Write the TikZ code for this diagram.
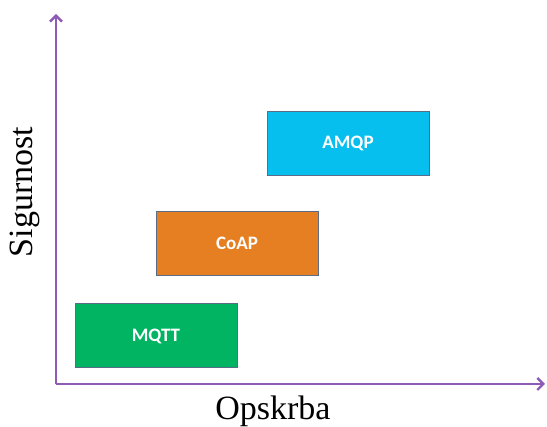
\documentclass[tikz,border=0pt]{standalone}
\usepackage{fontspec}
\setmainfont{Liberation Serif}
\newfontfamily\boxfont{Carlito}
\usetikzlibrary{arrows.meta}
\begin{document}
\begin{tikzpicture}[x=1pt, y=1pt,
  proto/.style = {draw = boxline, line width = 1pt, minimum width = 162pt, minimum height = 64pt,
    text = white, font = \boxfont\bfseries\fontsize{19}{22}\selectfont},
  axis/.style = {draw = axiscol, line width = 2.6pt, -{Straight Barb[length=6pt, width=12pt, line width=2.4pt]}}]
\useasboundingbox (0, 0) rectangle (547, 427);
\definecolor{axiscol}{HTML}{8E5BB5}
\definecolor{boxline}{HTML}{5A6C86}
\definecolor{mqttcol}{HTML}{00B462}
\definecolor{coapcol}{HTML}{E67E22}
\definecolor{amqpcol}{HTML}{06BFEE}
% axes
\coordinate (origin) at (56, 43);
\coordinate (ytop) at (56, 413);
\coordinate (xend) at (545, 43);
\draw[axis] (origin) -- (ytop);
\draw[axis] (origin) -- (xend);
\node[font = \fontsize{34}{40}\selectfont] (xlabel) at (273, 16) {Opskrba};
\node[font = \fontsize{34}{40}\selectfont, rotate = 90] (ylabel) at (25, 235) {Sigurnost};
% protocols
\node[proto, fill = mqttcol] (mqtt) at (156, 91) {MQTT};
\node[proto, fill = coapcol] (coap) at (237, 183.5) {CoAP};
\node[proto, fill = amqpcol] (amqp) at (348, 283.5) {AMQP};
\end{tikzpicture}
\end{document}
